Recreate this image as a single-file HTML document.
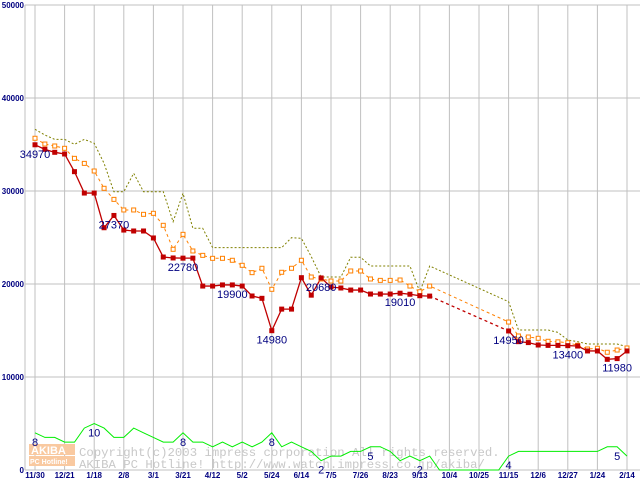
<!DOCTYPE html>
<html><head><meta charset="utf-8"><style>
body{margin:0;background:#fff;}
svg{display:block;font-family:"Liberation Sans",sans-serif;}
</style></head><body>
<svg id="chart" width="640" height="480" viewBox="0 0 640 480">
<g id="grid"></g>
<g id="watermark">
  <rect x="29" y="444" width="46" height="11" fill="#f9c9a0"/>
  <text x="31" y="454" font-size="11" font-weight="bold" fill="#fff">AKIBA</text>
  <rect x="29" y="456" width="46" height="10" fill="#f9c9a0"/>
  <text x="30" y="464" font-size="7" font-weight="bold" fill="#fff">PC Hotline!</text>
  <text x="79" y="456" font-size="12.3" font-family="Liberation Mono,monospace" fill="#c8c8c8">Copyright(c)2003 impress corporation All rights reserved.</text>
  <text x="79" y="468" font-size="12.3" font-family="Liberation Mono,monospace" fill="#c8c8c8">AKIBA PC Hotline!  http://www.watch.impress.co.jp/akiba/</text>
</g>
<g id="series"></g>
<g id="labels"></g>
</svg>
<script>
const xTickLabels=["11/30","12/21","1/18","2/8","3/1","3/21","4/12","5/2","5/24","6/14","7/5","7/26","8/23","9/13","10/4","10/25","11/15","12/6","12/27","1/24","2/14"];
const yTicks=[0,10000,20000,30000,40000,50000];
const minPrice=[34970,34480,34160,33980,32080,29780,29780,26050,27370,25800,25700,25700,24950,22900,22800,22780,22780,19780,19780,19900,19900,19780,18710,18460,14980,17300,17300,20680,18800,20650,19680,19570,19350,19350,18920,18920,18920,19010,18900,18740,18700,null,null,null,null,null,null,null,14950,13800,13700,13440,13400,13400,13370,13330,12800,12800,11900,11980,12800];
const avgPrice=[35670,35050,34840,34590,33510,32970,32150,30290,29100,27960,27960,27490,27600,26310,23730,25340,23550,23080,22760,22760,22550,22010,21220,21690,19430,21260,21690,22550,20750,20540,20320,20320,21400,21400,20540,20390,20390,20430,19780,19170,19780,null,null,null,null,null,null,null,15910,14410,14300,14160,13840,13780,13690,13410,13010,13090,12660,12900,13120];
const maxPrice=[36630,36020,35550,35550,35020,35550,35130,32970,29930,29930,31900,29930,29930,29930,26700,29750,25990,25990,23910,23910,23910,23910,23910,23910,23910,23910,24980,24910,22940,20750,20750,20750,22870,22870,21940,21940,21940,21940,21940,19170,21940,null,null,null,null,null,null,null,18100,15050,15050,15050,15050,14800,13980,13800,13550,13550,13550,13550,13260];
const shopCount=[8,7,7,6,6,9,10,9,7,7,9,8,7,6,6,8,6,6,5,6,5,6,5,6,8,5,6,5,4,2,3,3,4,4,5,5,4,2,3,2,3,0,0,0,0,0,0,0,3,4,4,4,4,4,4,4,4,4,5,5,3];
const priceLabelIdx=[0,8,15,20,24,29,37,48,54,59];
const priceLabelText=["34970","27370","22780","19900","14980","20680","19010","14950","13400","11980"];
const countLabelIdx=[0,6,15,24,29,34,39,48,59];
const countLabelText=["8","10","8","8","2","5","2","4","5"];

const NS="http://www.w3.org/2000/svg";
const X0=35,STEP=29.6/3,Y0=470,YTOP=5,YMAX=50000;
const xs=i=>X0+i*STEP;
const ys=v=>Y0-(v/YMAX)*(Y0-YTOP);
const yc=c=>ys(c*500);
function mk(tag,attrs,parent){const e=document.createElementNS(NS,tag);for(const k in attrs)e.setAttribute(k,attrs[k]);parent.appendChild(e);return e;}
const grid=document.getElementById('grid'),ser=document.getElementById('series'),lab=document.getElementById('labels');

yTicks.forEach(t=>{
  const l=mk('line',{x1:25,x2:640,y1:ys(t),y2:ys(t),stroke:'#c0c0c0','stroke-width':1},grid);
  
  
  const tx=mk('text',{x:24,y:ys(t)+3,'text-anchor':'end','font-size':8,'font-weight':'bold',fill:'#000080'},grid);
  tx.textContent=t;
  
  
});
const ax=mk('line',{x1:25,x2:25,y1:YTOP,y2:Y0,stroke:'#c0c0c0'},grid);


xTickLabels.forEach((s,k)=>{
  const x=xs(k*3);
  const l=mk('line',{x1:x,x2:x,y1:YTOP,y2:Y0,stroke:'#c0c0c0','stroke-width':1},grid);
  
  
  const tx=mk('text',{x:x,y:478,'text-anchor':'middle','font-size':8,'font-weight':'bold',fill:'#000080'},grid);
  tx.textContent=s;
  
  
});

function line(data,yf,color,dash,w,name){
  let d='';let prev=false;
  data.forEach((v,i)=>{if(v==null)return;d+=(prev?'L':'M')+xs(i).toFixed(1)+' '+yf(v).toFixed(1)+' ';prev=true;});
  const p=mk('path',{d:d,fill:'none',stroke:color,'stroke-width':w},ser);
  if(dash)p.setAttribute('stroke-dasharray',dash);
  
  
}
line(shopCount,yc,'#00ee00',null,1,'shop-count-line');
line(maxPrice,ys,'#808000','2,2',1,'max-price-line');
line(avgPrice,ys,'#ff8000','3,3',1,'avg-price-line');
let seg='',gap='';
minPrice.forEach((v,i)=>{ if(v==null)return; const p=minPrice[i-1];
  if(i===0){seg+='M'+xs(i)+' '+ys(v)+' ';return;}
  if(p==null){let j=i-1;while(minPrice[j]==null)j--;gap+='M'+xs(j)+' '+ys(minPrice[j])+'L'+xs(i)+' '+ys(v);seg+='M'+xs(i)+' '+ys(v)+' ';}
  else seg+='L'+xs(i)+' '+ys(v)+' ';
});
const ms=mk('path',{d:seg,fill:'none',stroke:'#c00000','stroke-width':1.3},ser);


const mg=mk('path',{d:gap,fill:'none',stroke:'#c00000','stroke-width':1.3,'stroke-dasharray':'3,3'},ser);


avgPrice.forEach((v,i)=>{if(v==null)return;
  const r=mk('rect',{x:xs(i)-2,y:ys(v)-2,width:4,height:4,fill:'#fff',stroke:'#ff8000','stroke-width':1},ser);
  
  
});
minPrice.forEach((v,i)=>{if(v==null)return;
  const r=mk('rect',{x:xs(i)-2.5,y:ys(v)-2.5,width:5,height:5,fill:'#c00000'},ser);
  
  
});
priceLabelIdx.forEach((i,k)=>{
  const t=mk('text',{x:xs(i),y:ys(minPrice[i])+13,'text-anchor':'middle','font-size':11,fill:'#000080'},lab);
  t.textContent=priceLabelText[k];
  
  
});
countLabelIdx.forEach((i,k)=>{
  const t=mk('text',{x:xs(i),y:yc(shopCount[i])+13,'text-anchor':'middle','font-size':11,fill:'#000080'},lab);
  t.textContent=countLabelText[k];
  
  
});
</script>
</body></html>
